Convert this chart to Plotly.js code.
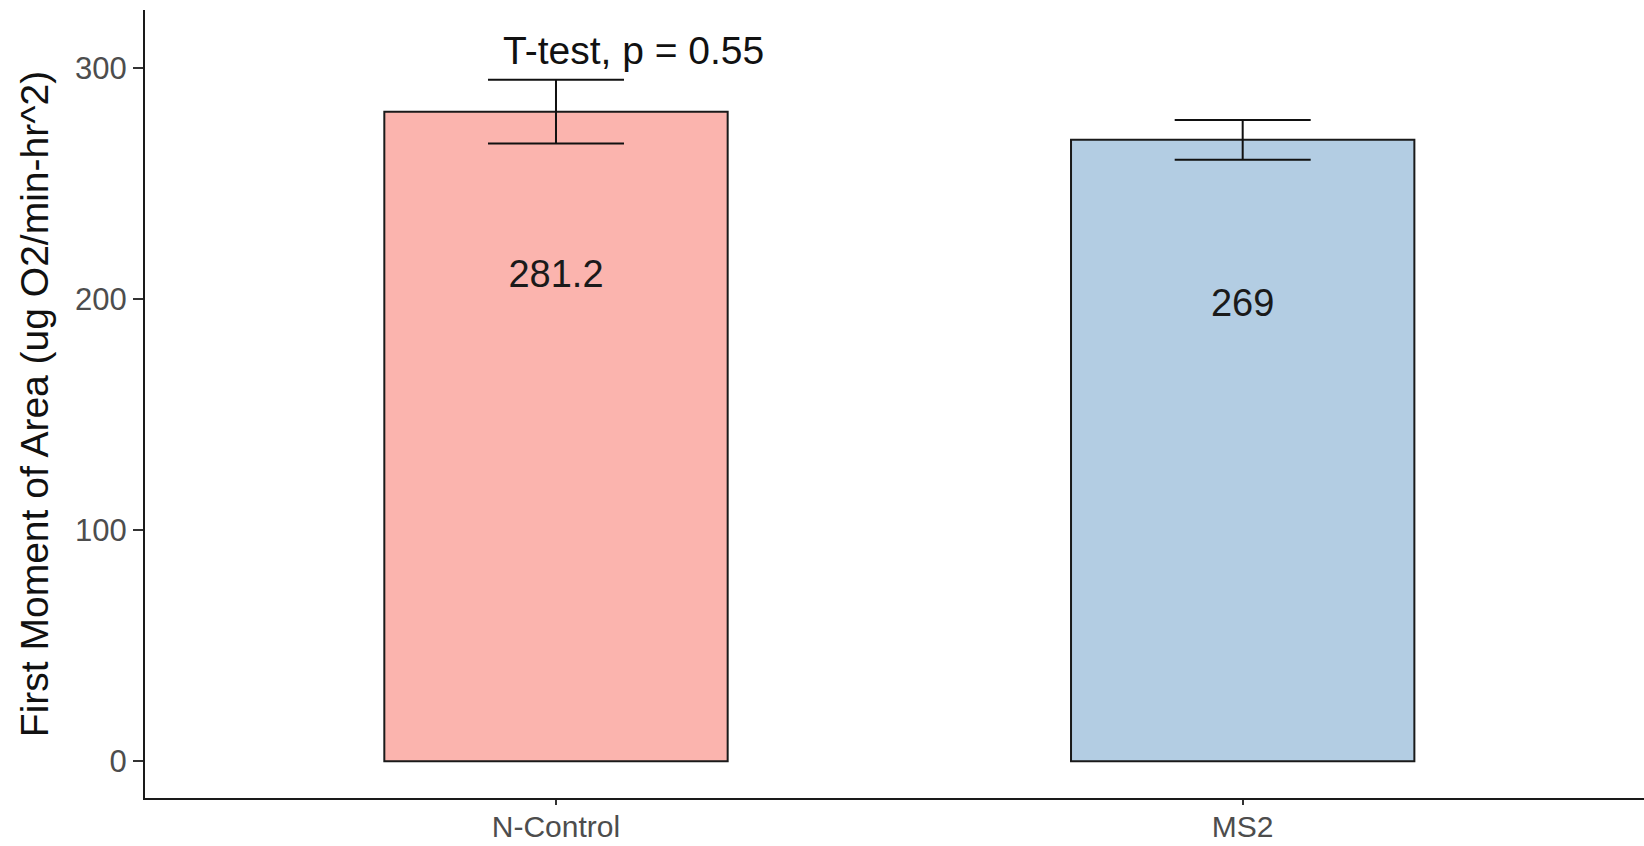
<!DOCTYPE html>
<html>
<head>
<meta charset="utf-8">
<script src="https://cdn.plot.ly/plotly-3.0.1.min.js"></script>
<style>html,body{margin:0;padding:0;background:#fff;}#chart{width:1644px;height:846px;}</style>
</head>
<body>
<div id="chart"></div>
<script>
const categories = ["N-Control", "MS2"];
const means = [281.2, 269];
const errors = [13.8, 8.6];
const barLabels = ["281.2", "269"];
const barColors = ["#FBB4AE", "#B3CDE3"];
const testLabel = "T-test, p = 0.55";
const yTicks = [0, 100, 200, 300];

const labelOffset = 72;

const barTrace = {
  type: "bar",
  x: categories,
  y: means,
  width: 0.5,
  marker: {color: barColors, line: {color: "#1a1a1a", width: 2}},
  error_y: {type: "data", array: errors, visible: true, color: "#111", thickness: 2, width: 68},
  hoverinfo: "skip",
  showlegend: false
};

const textTrace = {
  type: "scatter",
  mode: "text",
  x: categories,
  y: means.map(v => v - labelOffset),
  text: barLabels,
  textposition: "middle center",
  textfont: {family: "Liberation Sans, Arial, sans-serif", size: 38, color: "#1a1a1a"},
  hoverinfo: "skip",
  showlegend: false
};

const layout = {
  width: 1644,
  height: 846,
  margin: {l: 145, r: 0, t: 10, b: 48},
  paper_bgcolor: "#fff",
  plot_bgcolor: "#fff",
  font: {family: "Liberation Sans, Arial, sans-serif"},
  xaxis: {
    type: "category",
    range: [-0.5985, 1.5844],
    showgrid: false,
    zeroline: false,
    showline: true,
    linecolor: "#1a1a1a",
    linewidth: 2,
    ticks: "outside",
    ticklen: 5,
    tickwidth: 2,
    tickcolor: "#333",
    ticklabelstandoff: -4,
    tickfont: {size: 30, color: "#4d4d4d"},
    fixedrange: true
  },
  yaxis: {
    range: [-15.9, 325.2],
    tickvals: yTicks,
    ticktext: yTicks.map(String),
    showgrid: false,
    zeroline: false,
    showline: true,
    linecolor: "#1a1a1a",
    linewidth: 2,
    ticks: "outside",
    ticklen: 10,
    tickwidth: 2,
    tickcolor: "#333",
    tickfont: {size: 31, color: "#4d4d4d"},
    title: {text: "First Moment of Area (ug O2/min-hr^2)", font: {size: 39, color: "#111"}, standoff: 14},
    automargin: false,
    fixedrange: true
  },
  annotations: [{
    x: -0.08,
    y: 307.5,
    xref: "x",
    yref: "y",
    text: testLabel,
    showarrow: false,
    xanchor: "left",
    yanchor: "middle",
    font: {size: 39, color: "#111"}
  }]
};

Plotly.newPlot("chart", [barTrace, textTrace], layout, {displayModeBar: false, staticPlot: true});
</script>
</body>
</html>
